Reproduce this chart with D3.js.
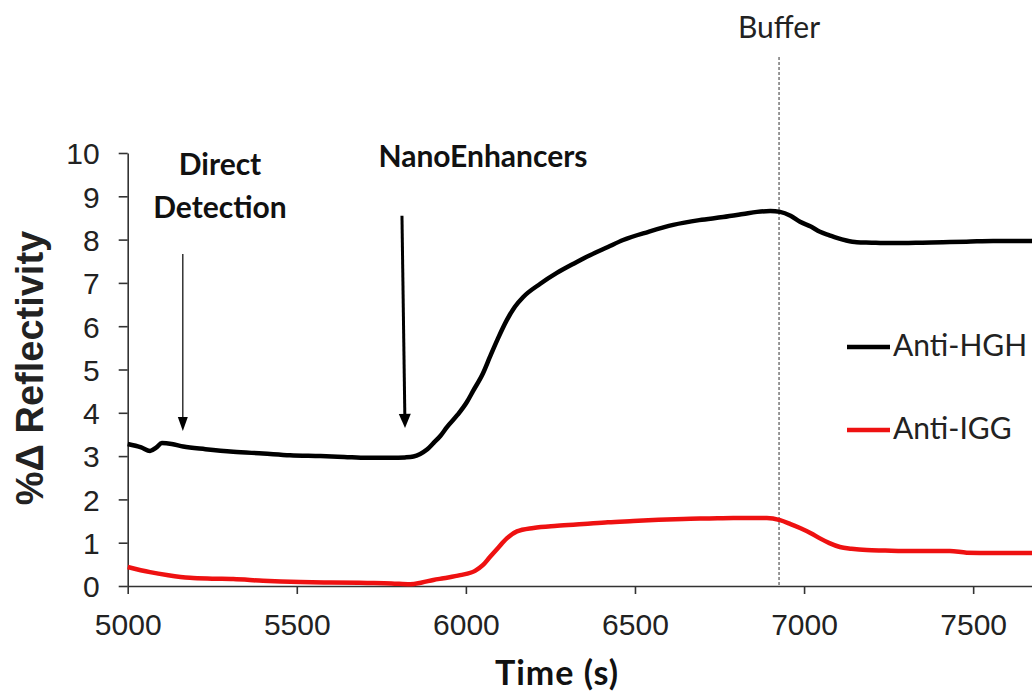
<!DOCTYPE html>
<html><head><meta charset="utf-8">
<script src="https://cdn.jsdelivr.net/npm/d3@7"></script>
<style>
html,body{margin:0;padding:0;background:#fff;}
svg{display:block;}
</style></head>
<body>
<svg id="chart" width="1032" height="695"></svg>
<script>
// ---- data ----
const seriesNames = ["Anti-HGH", "Anti-IGG"];
const seriesColors = ["#000000", "#ee1111"];
const hghTime = [5000,5040,5066,5085,5101,5130,5164,5230,5312,5400,5480,5570,5640,5708,5780,5820,5845,5865,5885,5904,5925,5944,5975,6003,6021,6051,6071,6095,6121,6145,6169,6220,6269,6320,6367,6420,6465,6540,6613,6690,6761,6820,6861,6900,6929,6960,6988,7020,7047,7075,7097,7125,7156,7200,7234,7293,7350,7411,7480,7559,7620,7674];
const hghValue = [3.28,3.2,3.12,3.2,3.30,3.28,3.22,3.16,3.1,3.06,3.02,3.0,2.98,2.96,2.96,2.97,2.99,3.05,3.15,3.3,3.47,3.67,3.95,4.25,4.5,4.92,5.29,5.72,6.14,6.45,6.67,6.98,7.23,7.45,7.64,7.83,7.99,8.18,8.34,8.45,8.52,8.59,8.64,8.66,8.64,8.55,8.41,8.3,8.18,8.1,8.04,7.98,7.94,7.93,7.92,7.92,7.93,7.94,7.95,7.97,7.97,7.97];
const iggTime = [5000,5066,5120,5184,5250,5312,5400,5510,5600,5708,5780,5835,5870,5904,5934,5983,6027,6050,6071,6095,6121,6151,6200,6270,6348,6420,6495,6570,6643,6720,6791,6850,6890,6929,6960,6988,7020,7047,7075,7106,7140,7185,7240,7293,7360,7431,7481,7560,7674];
const iggValue = [0.44,0.32,0.25,0.19,0.17,0.16,0.12,0.09,0.08,0.07,0.06,0.04,0.08,0.14,0.18,0.25,0.35,0.48,0.67,0.88,1.1,1.26,1.34,1.39,1.43,1.47,1.5,1.53,1.55,1.56,1.57,1.57,1.57,1.52,1.43,1.34,1.22,1.1,0.99,0.9,0.86,0.83,0.82,0.81,0.81,0.81,0.77,0.76,0.76];
const xTicks = [5000,5500,6000,6500,7000,7500];
const yTicks = [0,1,2,3,4,5,6,7,8,9,10];
const xDomain = [5000, 7674];
const yDomain = [0, 10];
const bufferTime = 6926;
// annotation arrows: [time, top value, tip value]
const directArrow = [5163, 7.67, 3.58];
const nanoArrowTop = [5811, 8.55];
const nanoArrowTip = [5820, 3.65];

// ---- layout ----
const svg = d3.select("#chart");
const x = d3.scaleLinear().domain(xDomain).range([127.7, 1032]);
const y = d3.scaleLinear().domain(yDomain).range([586, 153]);
const axisColor = "#333";

// x axis
const gx = svg.append("g").attr("transform", `translate(0,${y(0)})`)
  .call(d3.axisBottom(x).tickValues(xTicks).tickFormat(d3.format("d")).tickSize(8).tickSizeOuter(0).tickPadding(20));
gx.select(".domain").attr("stroke", axisColor).attr("stroke-width", 1.6);
gx.selectAll(".tick line").attr("stroke", axisColor).attr("stroke-width", 1.6);
gx.selectAll(".tick text").attr("font-family", "'Liberation Sans', Arial, sans-serif").attr("font-size", 30).attr("fill", "#222");

// y axis
const gy = svg.append("g").attr("transform", `translate(${x(5000)},0)`)
  .call(d3.axisLeft(y).tickValues(yTicks).tickFormat(d3.format("d")).tickSize(9).tickSizeOuter(0).tickPadding(19));
gy.select(".domain").attr("stroke", axisColor).attr("stroke-width", 1.6);
gy.selectAll(".tick line").attr("stroke", axisColor).attr("stroke-width", 1.6);
gy.selectAll(".tick text").attr("font-family", "'Liberation Sans', Arial, sans-serif").attr("font-size", 30).attr("fill", "#222").attr("dy", "0.36em");

// buffer dotted line
svg.append("line").attr("x1", x(bufferTime)).attr("x2", x(bufferTime)).attr("y1", 57).attr("y2", y(0))
  .attr("stroke", "#555").attr("stroke-width", 1.2).attr("stroke-dasharray", "3,2");
svg.append("text").attr("x", x(bufferTime)).attr("y", 38).attr("text-anchor", "middle")
  .attr("font-family", "Lato, sans-serif").attr("font-size", 30).attr("fill", "#222").text("Buffer");

// lines
const line = d3.line().x(d => x(d[0])).y(d => y(d[1])).curve(d3.curveMonotoneX);
svg.append("path").datum(iggTime.map((t, i) => [t, iggValue[i]]))
  .attr("d", line).attr("fill", "none").attr("stroke", seriesColors[1]).attr("stroke-width", 4.5).attr("stroke-linejoin", "round");
svg.append("path").datum(hghTime.map((t, i) => [t, hghValue[i]]))
  .attr("d", line).attr("fill", "none").attr("stroke", seriesColors[0]).attr("stroke-width", 4.5).attr("stroke-linejoin", "round");

// arrows
function arrow(x1, y1, x2, y2, w, hw, hl) {
  const ang = Math.atan2(y2 - y1, x2 - x1);
  const bx = x2 - hl * Math.cos(ang), by = y2 - hl * Math.sin(ang);
  svg.append("line").attr("x1", x1).attr("y1", y1).attr("x2", bx).attr("y2", by)
    .attr("stroke", "#000").attr("stroke-width", w);
  const px = -Math.sin(ang) * hw / 2, py = Math.cos(ang) * hw / 2;
  svg.append("path").attr("d", `M${x2},${y2}L${bx + px},${by + py}L${bx - px},${by - py}Z`).attr("fill", "#000");
}
arrow(x(directArrow[0]), y(directArrow[1]), x(directArrow[0]), y(directArrow[2]), 1.2, 10, 14);
arrow(x(nanoArrowTop[0]), y(nanoArrowTop[1]), x(nanoArrowTip[0]), y(nanoArrowTip[1]), 3, 12, 14);

// annotation text
const ann = svg.append("g").attr("font-family", "Lato, sans-serif").attr("font-weight", "bold").attr("font-size", 30).attr("fill", "#111").attr("text-anchor", "middle");
ann.append("text").attr("x", 220).attr("y", 175).text("Direct");
ann.append("text").attr("x", 220).attr("y", 218).text("Detection");
ann.append("text").attr("x", 483).attr("y", 167).text("NanoEnhancers");

// legend
const leg = svg.append("g");
const legY = [347, 430];
seriesNames.forEach((n, i) => {
  leg.append("line").attr("x1", 847).attr("x2", 890).attr("y1", legY[i]).attr("y2", legY[i])
    .attr("stroke", seriesColors[i]).attr("stroke-width", 4.5);
  leg.append("text").attr("x", 893).attr("y", legY[i] + 9).attr("font-family", "Lato, sans-serif").attr("font-size", 30).attr("fill", "#222").text(n);
});

// axis titles
svg.append("text").attr("transform", "translate(43,368) rotate(-90)").attr("text-anchor", "middle")
  .attr("font-family", "'Liberation Sans', Arial, sans-serif").attr("font-weight", "bold").attr("font-size", 38).attr("fill", "#222").text("%Δ Reflectivity");
svg.append("text").attr("x", 557).attr("y", 685).attr("text-anchor", "middle")
  .attr("font-family", "Lato, sans-serif").attr("font-weight", "bold").attr("font-size", 34).attr("letter-spacing", 1).attr("fill", "#111").text("Time (s)");
</script>
</body></html>
